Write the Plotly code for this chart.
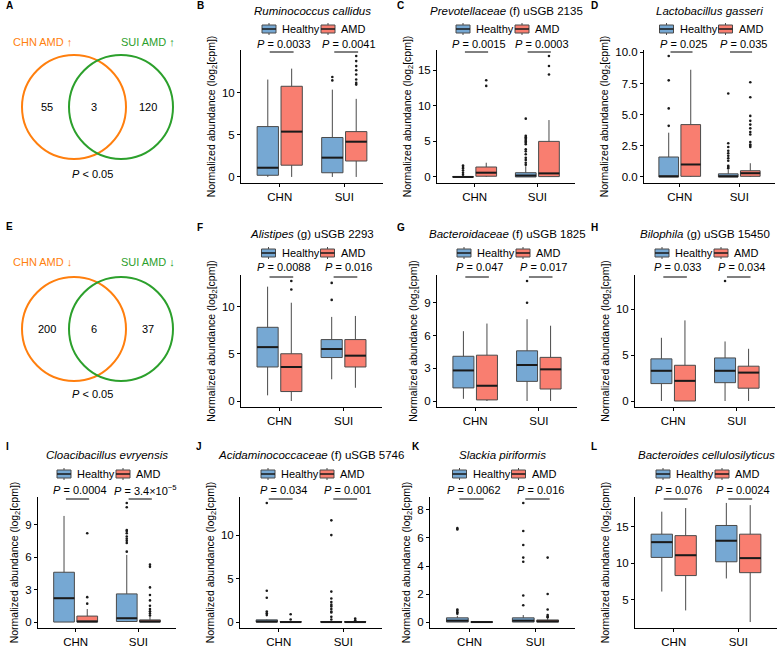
import plotly.graph_objects as go

W, H = 780, 670
FONT = "Liberation Sans, Arial"

groups = ["CHN", "SUI"]
conditions = ["Healthy", "AMD"]
fill_colors = ["#76A8D3", "#F97E70"]

# Venn panels
venn_up_counts = [55, 3, 120]
venn_down_counts = [200, 6, 37]
venn_up_labels = ["CHN AMD ↑", "SUI AMD ↑"]
venn_down_labels = ["CHN AMD ↓", "SUI AMD ↓"]
venn_colors = ["#FF7F0E", "#2CA02C"]

titles = [
    "<i>Ruminococcus callidus</i>",
    "<i>Prevotellaceae</i> (f) uSGB 2135",
    "<i>Lactobacillus gasseri</i>",
    "<i>Alistipes</i> (g) uSGB 2293",
    "<i>Bacteroidaceae</i> (f) uSGB 1825",
    "<i>Bilophila</i> (g) uSGB 15450",
    "<i>Cloacibacillus evryensis</i>",
    "<i>Acidaminococcaceae</i> (f) uSGB 5746",
    "<i>Slackia piriformis</i>",
    "<i>Bacteroides cellulosilyticus</i>",
]
panel_letters = ["B", "C", "D", "F", "G", "H", "I", "J", "K", "L"]
p_chn = ["0.0033", "0.0015", "0.025", "0.0088", "0.047", "0.033", "0.0004", "0.034", "0.0062", "0.076"]
p_sui = ["0.0041", "0.0003", "0.035", "0.016", "0.017", "0.034", "3.4×10<sup>−5</sup>", "0.001", "0.016", "0.0024"]

# box stats: [lower, q1, median, q3, upper] for CHN-Healthy, CHN-AMD, SUI-Healthy, SUI-AMD
stats_B = [[0, 0.2, 1.1, 6.0, 11.6], [0, 1.4, 5.4, 10.8, 12.9], [0, 0.5, 2.3, 4.7, 10.4], [0, 1.9, 4.2, 5.4, 9.3]]
out_B = [[], [], [11.9, 11.5], [14.4, 13.8, 13.2, 12.7, 12.2, 11.6, 11.2, 11.0]]
stats_C = [[0, 0, 0, 0.05, 0.1], [0, 0.1, 0.6, 1.4, 2.0], [0, 0, 0.2, 0.6, 1.5], [0, 0.05, 0.5, 5.0, 8.0]]
out_C = [[1.6, 1.4, 1.2, 0.9, 0.6, 0.3], [13.6, 12.8],
         [8.2, 5.8, 5.6, 5.4, 5.2, 5.0, 4.8, 4.6, 3.9, 3.6, 3.2, 2.7, 2.4, 2.0, 1.7],
         [17.0, 15.6, 14.4]]
stats_D = [[0, 0, 0.05, 1.6, 3.55], [0, 0.05, 1.0, 4.2, 8.6], [0, 0, 0.05, 0.25, 0.6], [0, 0.05, 0.3, 0.5, 1.1]]
out_D = [[4.1, 5.5, 7.75, 9.7], [],
         [0.7, 0.8, 0.9, 1.3, 1.5, 1.7, 1.9, 2.1, 2.4, 2.7, 6.7],
         [2.4, 2.5, 2.6, 2.8, 3.4, 3.6, 3.9, 4.2, 4.5, 4.9, 6.4, 7.6]]
stats_F = [[0.6, 3.6, 5.7, 7.8, 12.1], [0, 1.0, 3.6, 5.0, 10.4], [2.3, 4.6, 5.5, 6.5, 8.9], [1.4, 3.6, 4.8, 6.5, 9.0]]
out_F = [[], [11.8, 12.7], [10.7, 12.5], []]
stats_G = [[0.2, 1.2, 2.8, 4.1, 6.4], [0, 0.1, 1.4, 4.2, 7.1], [0, 1.8, 3.3, 4.6, 7.5], [0, 1.1, 2.9, 4.0, 6.9]]
out_G = [[], [], [9.0, 11.0], []]
stats_H = [[0, 1.9, 3.3, 4.6, 6.9], [0, 0, 2.2, 3.9, 8.8], [0, 2.0, 3.3, 4.7, 6.5], [0, 1.4, 3.1, 3.8, 5.7]]
out_H = [[], [], [13.1], []]
stats_I = [[0, 0, 2.2, 4.6, 9.8], [0, 0, 0.05, 0.55, 1.2], [0, 0.05, 0.35, 2.6, 6.2], [0, 0, 0.05, 0.2, 0.5]]
out_I = [[], [1.7, 2.3, 8.2],
         [6.5, 7.3, 7.5, 7.7, 7.9, 8.2, 8.4, 8.5, 10.6, 11.0],
         [0.6, 0.8, 1.0, 1.2, 1.5, 2.0, 2.5, 3.2, 5.1, 5.3]]
stats_J = [[0, 0, 0.05, 0.25, 0.3], [0, 0, 0, 0.05, 0.1], [0, 0, 0, 0.05, 0.1], [0, 0, 0, 0.05, 0.1]]
out_J = [[0.8, 1.0, 1.2, 2.8, 3.6, 13.7], [0.3, 0.9],
         [0.3, 0.6, 1.1, 1.2, 1.5, 1.8, 2.0, 2.3, 2.7, 3.5, 10.0, 11.7], [0.2, 0.4]]
stats_K = [[0, 0, 0.1, 0.3, 0.45], [0, 0, 0, 0, 0], [0, 0, 0.1, 0.3, 0.5], [0, 0, 0.05, 0.15, 0.3]]
out_K = [[0.6, 0.7, 0.8, 0.9, 6.6, 6.7], [], [1.2, 1.9, 4.3, 4.6, 5.5, 6.5, 8.5], [0.35, 0.4, 0.5, 0.9, 2.0, 4.6]]
stats_L = [[6.1, 10.8, 12.9, 14.0, 17.1], [3.5, 8.3, 11.1, 13.8, 17.6], [7.9, 10.2, 13.1, 15.2, 18.3], [1.9, 8.7, 10.7, 14.0, 18.0]]
out_L = [[], [], [], []]

ticks_B = [0, 5, 10]
ticks_C = [0, 5, 10, 15]
ticks_D = [0, 2.5, 5, 7.5, 10]
ticks_F = [0, 5, 10]
ticks_G = [0, 3, 6, 9]
ticks_H = [0, 5, 10]
ticks_I = [0, 3, 6, 9]
ticks_J = [0, 5, 10]
ticks_K = [0, 2, 4, 6, 8]
ticks_L = [5, 10, 15]
ticklabels_D = ["0.0", "2.5", "5.0", "7.5", "10.0"]

all_stats = [stats_B, stats_C, stats_D, stats_F, stats_G, stats_H, stats_I, stats_J, stats_K, stats_L]
all_out = [out_B, out_C, out_D, out_F, out_G, out_H, out_I, out_J, out_K, out_L]
all_ticks = [ticks_B, ticks_C, ticks_D, ticks_F, ticks_G, ticks_H, ticks_I, ticks_J, ticks_K, ticks_L]

# layout (pixels)
panel_x = [(241, 383), (437, 575), (644, 775), (241, 382), (437, 577), (635, 775),
           (38, 176), (240, 382), (430, 575), (635, 777)]
panel_row = [0, 0, 0, 1, 1, 1, 2, 2, 2, 2]
row_y = [(50, 183), (275, 407), (497, 628)]
title_y = [11, 234, 455]
legend_y = [29, 253, 474]
ptext_y = [44, 267, 490]
letter_pos = [(195, 6), (395, 6), (589, 6), (195, 227), (395, 227), (589, 227),
              (4, 447), (194, 447), (410, 447), (589, 447)]

OFF = 0.185
BW = 0.33


def px(x):
    return x / W


def py(y):
    return 1 - y / H


fig = go.Figure()
shapes = []
annotations = []
layout = {}

for k in range(10):
    n = k + 1
    xa = "x" if n == 1 else f"x{n}"
    ya = "y" if n == 1 else f"y{n}"
    stats = all_stats[k]
    outs = all_out[k]
    row = panel_row[k]
    x0, x1 = panel_x[k]
    ytop, ybot = row_y[row]
    cx = (x0 + x1) / 2

    for gi in range(2):
        for ci in range(2):
            s = stats[gi * 2 + ci]
            o = outs[gi * 2 + ci]
            pos = gi + (OFF if ci else -OFF)
            fig.add_trace(go.Box(
                x=[pos], lowerfence=[s[0]], q1=[s[1]], median=[s[2]], q3=[s[3]], upperfence=[s[4]],
                orientation="v", width=BW, whiskerwidth=0, fillcolor=fill_colors[ci],
                line=dict(color="#4a4a4a", width=1), boxpoints=False,
                xaxis=xa, yaxis=ya, showlegend=False, hoverinfo="skip"))
            fig.add_trace(go.Scatter(
                x=[pos - BW / 2, pos + BW / 2], y=[s[2], s[2]], mode="lines",
                line=dict(color="#1a1a1a", width=2), xaxis=xa, yaxis=ya,
                showlegend=False, hoverinfo="skip"))
            if o:
                fig.add_trace(go.Scatter(
                    x=[pos] * len(o), y=o, mode="markers",
                    marker=dict(color="#1a1a1a", size=2.6), xaxis=xa, yaxis=ya,
                    showlegend=False, hoverinfo="skip"))

    vals = [v for s in stats for v in (s[0], s[4])] + [v for o in outs for v in o]
    lo, hi = min(vals), max(vals)
    span = hi - lo
    ticks = all_ticks[k]
    ticktext = ticklabels_D if k == 2 else [str(t) for t in ticks]

    layout["xaxis" if n == 1 else f"xaxis{n}"] = dict(
        domain=[px(x0), px(x1)], anchor=ya, range=[-0.6, 1.6],
        tickvals=[0, 1], ticktext=groups, showline=True, linecolor="black", linewidth=1,
        ticks="outside", ticklen=3, tickcolor="black", showgrid=False, zeroline=False,
        automargin=False, tickfont=dict(size=11.5, color="black", family=FONT))
    layout["yaxis" if n == 1 else f"yaxis{n}"] = dict(
        domain=[py(ybot), py(ytop)], anchor=xa, range=[lo - 0.05 * span, hi + 0.05 * span],
        tickvals=ticks, ticktext=ticktext, showline=True, linecolor="black", linewidth=1,
        ticks="outside", ticklen=3, tickcolor="black", showgrid=False, zeroline=False,
        automargin=False, tickfont=dict(size=11.5, color="black", family=FONT),
        title=dict(text="Normalized abundance (log<sub>2</sub>[cpm])",
                   font=dict(size=10.5, color="black", family=FONT), standoff=4))

    # title
    annotations.append(dict(x=px(cx), y=py(title_y[row]), xref="paper", yref="paper",
                            text=titles[k], showarrow=False, xanchor="center", yanchor="middle",
                            font=dict(size=11.5, color="black", family=FONT)))
    # legend
    ly = legend_y[row]
    for ci, (ix, tx) in enumerate([(cx - 50, cx - 32), (cx + 9, cx + 27)]):
        shapes.append(dict(type="line", xref="paper", yref="paper",
                           x0=px(ix + 7), x1=px(ix + 7), y0=py(ly - 6), y1=py(ly + 6),
                           line=dict(color="#4a4a4a", width=1)))
        shapes.append(dict(type="rect", xref="paper", yref="paper",
                           x0=px(ix), x1=px(ix + 14), y0=py(ly - 4), y1=py(ly + 4),
                           fillcolor=fill_colors[ci], line=dict(color="#4a4a4a", width=1)))
        shapes.append(dict(type="line", xref="paper", yref="paper",
                           x0=px(ix), x1=px(ix + 14), y0=py(ly), y1=py(ly),
                           line=dict(color="#1a1a1a", width=1.5)))
        annotations.append(dict(x=px(tx), y=py(ly), xref="paper", yref="paper",
                                text=conditions[ci], showarrow=False, xanchor="left", yanchor="middle",
                                font=dict(size=11, color="black", family=FONT)))
    # p-value brackets
    for gi, ptxt in enumerate([p_chn[k], p_sui[k]]):
        shapes.append(dict(type="line", xref=xa, yref="paper",
                           x0=gi - OFF + 0.03, x1=gi + OFF + 0.03, y0=py(ytop + 2), y1=py(ytop + 2),
                           line=dict(color="black", width=1)))
        shift = 0.12 if "sup" in ptxt else 0.07
        annotations.append(dict(x=gi + shift, y=py(ptext_y[row]), xref=xa, yref="paper",
                                text=f"<i>P</i> = {ptxt}", showarrow=False,
                                xanchor="center", yanchor="middle",
                                font=dict(size=11, color="black", family=FONT)))
    lx, lyy = letter_pos[k]
    annotations.append(dict(x=px(lx), y=py(lyy), xref="paper", yref="paper",
                            text=f"<b>{panel_letters[k]}</b>", showarrow=False,
                            xanchor="left", yanchor="middle",
                            font=dict(size=10, color="black", family=FONT)))

# Venn diagrams A and E
for letter, oy, counts, labels in [("A", 0, venn_up_counts, venn_up_labels),
                                   ("E", 220, venn_down_counts, venn_down_labels)]:
    cy = 107 + oy + (2 if oy else 0)
    for ccx, col in zip([74, 121], venn_colors):
        r = 52
        shapes.append(dict(type="circle", xref="paper", yref="paper",
                           x0=px(ccx - r), x1=px(ccx + r), y0=py(cy + r), y1=py(cy - r),
                           line=dict(color=col, width=2)))
    for tx, lab, col in zip([42, 148], labels, venn_colors):
        annotations.append(dict(x=px(tx), y=py(42 + oy), xref="paper", yref="paper",
                                text=lab, showarrow=False, xanchor="center", yanchor="middle",
                                font=dict(size=11, color=col, family=FONT)))
    for tx, c in zip([47, 94, 148], counts):
        annotations.append(dict(x=px(tx), y=py(cy), xref="paper", yref="paper",
                                text=str(c), showarrow=False, xanchor="center", yanchor="middle",
                                font=dict(size=11, color="black", family=FONT)))
    annotations.append(dict(x=px(92), y=py(174 + oy), xref="paper", yref="paper",
                            text="<i>P</i> &lt; 0.05", showarrow=False, xanchor="center", yanchor="middle",
                            font=dict(size=11, color="black", family=FONT)))
    annotations.append(dict(x=px(4), y=py(6 + oy), xref="paper", yref="paper",
                            text=f"<b>{letter}</b>", showarrow=False, xanchor="left", yanchor="middle",
                            font=dict(size=10, color="black", family=FONT)))

fig.update_layout(
    width=W, height=H, margin=dict(l=0, r=0, t=0, b=0),
    paper_bgcolor="white", plot_bgcolor="white", showlegend=False,
    font=dict(family=FONT, color="black"),
    shapes=shapes, annotations=annotations, **layout)

fig.write_html("out.html", config={"displayModeBar": False},
               post_script="document.body.style.margin='0px';")
